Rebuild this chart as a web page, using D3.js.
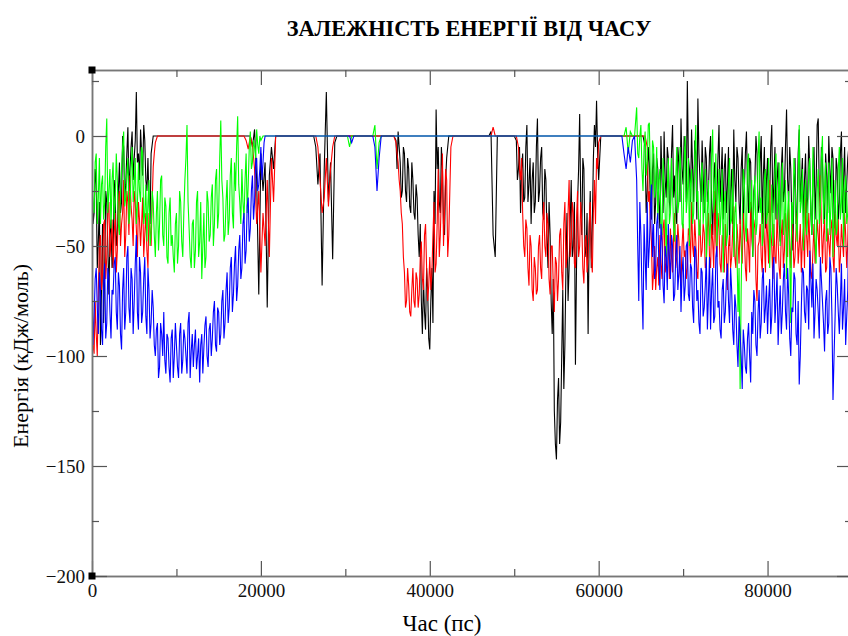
<!DOCTYPE html>
<html>
<head>
<meta charset="utf-8">
<script src="https://cdn.jsdelivr.net/npm/d3@7"></script>
<style>
  body { margin: 0; background: #fff; }
  svg { display: block; }
  text { font-family: "Liberation Serif", "DejaVu Serif", serif; }
</style>
</head>
<body>
<div id="chart"></div>
<script>
// часові кроки в пс, нуль поза відрізками (комплекс не утворено)
// *M масиви - проміжні значення, на пів кроку пізніше
const STEP = 250;
const xMajor = [0, 20000, 40000, 60000, 80000];
const xMinor = [10000, 30000, 50000, 70000, 90000];
const yMajor = [0, -50, -100, -150, -200];
const yMinor = [25, -25, -75, -125, -175];

// чорна серія
const blackStarts = [0, 19000, 26500, 36000, 47250, 50250, 65500];
const blackA = [-18, -35, -22, -48, -95, -40, -62, -30, -72, -38, -55, -28, -45, -12, -30, -5, -22, 4, -15, 2, -10, 20, -8, 3, -18, -2, -25, -30, -8];
const blackAM = [-40, -15, -60, -30, -70, -85, -25, -50, -45, -60, -20, -50, -25, -35, 0, -28, -8, -25, -5, -20, -2, -12, -20, -8, 5, -20, -10, -40];
const blackB = [-5, 3, -20, -72, -8, -25, -12, -78, -18, -5, -15];
const blackC = [-5, -22, -8, -68, -15, 20, -30, -12, -56, -3];
const blackD = [-2, 2, -12, -25, -8, -30, -15, -35, -20, -38, -28, -55, -75, -65, -88, -70, -97, -60, -25, 12, -5, -35, -15, -45, -10, 0];
const blackDM = [-15, -5, -28, -5, -25, -10, -32, -12, -35, -22, -45, -40, -90, -80, -60, -92, -75, -85, -40, -15, -30, -5, -40, -20, -5];
const blackE = [2, -45, -55, 0];
const blackF = [-2, -15, -35, -8, -28, 5, -22, -40, -12, -30, 8, -25, -5, -38, -20, -60, -45, -90, -125, -147,
  -110, -130, -70, -95, -35, -60, -20, -50, -104, -30, 10, -45, -15, -55, -90, -25, -40, 5, 16, -20];
const blackFM = [-20, -5, -15, -30, -5, -30, -10, -20, -35, -5, -30, -10, -35, -15, -45, -30, -75, -65, -140, -120,
  -140, -100, -115, -60, -75, -40, -55, -30, -60, -15, -30, -10, -50, -35, -45, -60, -10, -5, -8];
const blackG = [-5, -25, -12, -38, -8, -30, -15, -42, -20, 2, -28, -10, -35, 5, -18, -40, -12, 8, -22, -5,
  25, -15, 3, -30, -8, 17, -20, -2, -35, -10, -25, 0, -45, -12, -28, 5, -18, -38, -8, -22,
  -50, -15, 3, -30, -10, -40, -5, -25, 2, -35, -12, -55, -20, -8, -32, 0, -18, -42, -10, -28,
  5, -22, -38, -12, -48, -5, -25, 12, -30, -15, -52, -10, -35, 3, -20, -40, -8, -28, -15, -45,
  -5, -22, 8, -32, -12, -38, -18, 0, -26, -10, -42, -15, -30, 2, -20, -35, -10];
const blackGM = [-35, -5, -30, -15, -40, -10, -30, 0, -35, -20, -5, -30, -8, -28, -35, -5, -30, -15, 0, -30,
  -10, -30, -15, -2, -38, -8, -30, -18, -5, -30, -8, -32, -20, -40, -10, -30, -5, -15, -35, -5,
  -25, -40, -20, -5, -30, -15, -38, -8, -22, -10, -40, -25, 0, -35, -12, -40, -5, -20, -35, -5,
  -35, -5, -20, -40, -15, -30, -5, -20, -5, -38, -25, -40, -8, -30, -10, -20, -35, 0, -35, -15,
  -38, 5, -25, -5, -30, -8, -35, -15, -5, -35, -10, -38, -8, -35, -5, -22];

// червона серія
const redStarts = [0, 18250, 26750, 36000, 47500, 50500, 65750];
const redA = [-85, -99, -90, -70, -45, -62, -38, -55, -30, -48, -60, -35, -52, -25, -40, -20, -45, -30, -18, -38,
  -25, -42, -30, -50, -28, -45, -52, -35, -50, -14, -3];
const redAM = [-95, -75, -100, -50, -70, -40, -65, -35, -55, -38, -45, -62, -30, -50, -35, -55, -25, -45, -32, -50,
  -30, -55, -38, -40, -55, -35, -60, -42, -30, -8];
const redB = [-2, -6, 0, -4, -15, -40, -25, -62, -35, -50, -20, -55, -10, -30];
const redC = [-5, -20, -35, -28, -10, -32, -15, -5];
const redD = [-3, -12, -25, -40, -62, -75, -68, -82, -60, -78, -65, -72, -48, -70, -40, -75, -55, -62, -30, -58,
  -15, -45, -8, -35, -20, -45, -5];
const redDM = [-8, -20, -35, -55, -78, -60, -80, -70, -75, -62, -78, -55, -65, -45, -60, -68, -70, -45, -62, -40,
  -55, -25, -50, -15, -55, -25];
const redE = [4];
const redF = [-5, -20, -35, -55, -42, -68, -50, -75, -60, -70, -45, -65, -30, -55, -40, -72, -50, -80, -58, -65,
  -42, -70, -30, -55, -20, -48, -35, -60, -25, -50, -40, -67, -45, -55, -30, -62, -20, -10, -3];
const redFM = [-15, -10, -50, -38, -60, -45, -70, -55, -72, -50, -60, -40, -50, -35, -65, -50, -68, -55, -75, -45,
  -62, -40, -60, -35, -55, -30, -58, -38, -55, -30, -60, -48, -62, -40, -55, -35, -40, -15];
const redG = [-5, -25, -48, -62, -70, -55, -45, -65, -38, -58, -50, -42, -62, -35, -55, -48, -68, -40, -52, -60,
  -45, -30, -55, -48, -65, -38, -52, -44, -58, -35, -60, -48, -25, -55, -42, -62, -50, -40, -70, -45,
  -55, -32, -60, -48, -38, -58, -45, -66, -50, -30, -52, -42, -75, -48, -55, -35, -62, -45, -20, -50,
  -40, -58, -48, -65, -38, -52, -44, -30, -60, -46, -55, -35, -50, -62, -42, -28, -55, -48, -65, -40,
  -52, -45, -18, -58, -38, -60, -48, -42, -55, -35, -50, -62, -40, -55, -45, -48];
const redGM = [-30, -40, -70, -50, -60, -68, -58, -42, -62, -45, -65, -55, -45, -60, -40, -62, -50, -55, -65, -42,
  -58, -50, -38, -62, -45, -55, -40, -60, -42, -55, -40, -60, -48, -35, -58, -45, -62, -55, -50, -60,
  -42, -55, -40, -58, -50, -35, -60, -42, -62, -45, -38, -65, -50, -40, -62, -48, -35, -58, -42, -65,
  -55, -35, -60, -45, -60, -35, -55, -50, -38, -60, -42, -58, -40, -48, -60, -45, -35, -62, -52, -58,
  -38, -55, -40, -45, -62, -42, -55, -38, -62, -45, -38, -55, -48, -35, -60];

// зелена серія
const greenStarts = [0, 30500, 33500, 63250, 64500];
const greenA = [-15, -35, -8, -28, -40, -18, -30, 8, -25, -42, -12, -30, -20, -45, -15, 2, -28, -10, -35, -5,
  -22, -40, -12, -30, -8, -35, -48, -20, -45, -30, -55, -25, -40, -18, -50, -32, -58, -28, -45, -62,
  -35, -50, -30, -55, -20, 5, -42, -60, -38, -52, -25, -48, -65, -35, -55, -30, -45, -22, -40, -15,
  -35, 7, -28, -45, -20, -38, -10, -42, -25, 9, -30, -15, -38, -8, -22, 2, -12, -5, 3, -8, -2];
const greenAM = [-30, -12, -40, -10, -22, -38, -5, -35, -15, -20, -38, -8, -40, -25, -5, -32, -18, -40, -15, -30,
  -10, -32, -25, -5, -40, -22, -30, -50, -25, -45, -35, -52, -20, -45, -28, -55, -35, -50, -55, -40,
  -58, -25, -48, -35, -10, -30, -55, -40, -60, -30, -55, -30, -50, -60, -25, -48, -28, -50, -20, -42,
  -10, -20, -48, -30, -45, -18, -35, -12, -5, -22, -40, -30, -20, -35, -5, -15, -2, -10, -4, 0];
const greenB = [-5];
const greenC = [5, -15, -3];
const greenD = [4, -8, 2];
const greenE = [13, -10, 5, -25, 2, -12, 6, -30, -5, -20, -38, -15, -45, -22, -55, -10, -35, -25, -48, -5,
  -30, -18, -42, 0, -28, -50, -15, -35, 5, -25, -45, -12, -32, -58, -20, -40, 3, -28, -50, -15,
  -35, -62, -25, -45, -10, -38, -55, -30, -80, -115, -40, -20, -48, -8, -32, -55, -18, -40, 2, -28,
  -45, -15, -35, -60, -22, -42, -8, -30, -50, -12, -38, -65, -25, -85, -40, -18, -48, 5, -30, -52,
  -20, -38, -10, -45, -28, -58, -15, -35, 0, -25, -48, -12, -32, -55, -20, -42, -5, -30, -50, -18, -35];
const greenEM = [-8, 0, -15, -5, -18, 5, -20, -2, -28, -5, -20, -40, -10, -35, -25, -40, -10, -42, -20, -35,
  -5, -40, -12, -35, -10, -22, -40, -8, -30, -45, -20, -40, -15, -35, -50, -10, -35, -8, -30, -45,
  -15, -30, -50, -20, -40, -15, -35, -50, -60, -70, -15, -42, -12, -35, -20, -30, -45, -10, -35, -50,
  -20, -40, -10, -40, -50, -15, -38, -12, -25, -45, -20, -35, -55, -30, -10, -40, -20, -35, -15, -30,
  -45, -15, -35, -5, -48, -25, -40, -10, -40, -12, -30, -45, -10, -35, -45, -15, -38, -10, -25, -40];

// синя серія
const blueStarts = [0, 30750, 33500, 63000, 64500];
const blueA = [-55, -82, -60, -90, -70, -95, -58, -85, -65, -92, -72, -55, -88, -68, -97, -60, -80, -50, -85, -65,
  -75, -45, -88, -62, -80, -55, -90, -70, -85, -78, -100, -85, -105, -90, -80, -108, -92, -112, -88, -100,
  -95, -110, -85, -102, -92, -108, -80, -98, -105, -88, -100, -112, -90, -96, -82, -105, -85, -92, -75, -98,
  -80, -90, -70, -85, -62, -78, -55, -72, -50, -68, -45, -60, -35, -52, -28, -42, -18, -30, -10, -22,
  -5, -12, 0];
const blueAM = [-95, -65, -78, -62, -88, -68, -92, -60, -80, -70, -58, -80, -62, -90, -70, -88, -55, -78, -60, -90,
  -58, -80, -55, -85, -65, -82, -60, -92, -70, -95, -88, -110, -85, -100, -102, -90, -105, -92, -110, -85,
  -105, -90, -108, -88, -100, -85, -110, -90, -95, -106, -92, -95, -108, -86, -100, -88, -100, -80, -95, -78,
  -95, -75, -92, -70, -85, -60, -80, -58, -75, -52, -65, -40, -58, -32, -48, -25, -38, -12, -25, -15,
  -20, -3];
const blueB = [-3];
const blueC = [-5, -25, -10];
const blueD = [-8, -15, -5, -12, -2];
const blueE = [-20, -75, -45, -88, -55, -30, -50, -22, -40, -60, -35, -70, -48, -76, -55, -40, -65, -50, -72, -45,
  -62, -80, -55, -68, -48, -75, -60, -85, -52, -70, -90, -62, -78, -55, -72, -88, -60, -82, -50, -75,
  -92, -65, -80, -58, -85, -70, -95, -78, -105, -90, -115, -95, -108, -85, -112, -90, -75, -100, -70, -85,
  -60, -78, -90, -65, -82, -55, -75, -95, -68, -80, -58, -88, -72, -100, -80, -65, -95, -113, -78, -62,
  -85, -70, -52, -78, -92, -65, -80, -55, -75, -98, -70, -85, -60, -120, -82, -68, -90, -58, -78, -95, -70];
const blueEM = [-50, -30, -70, -40, -70, -60, -35, -55, -65, -40, -58, -40, -68, -50, -70, -55, -45, -75, -55, -70,
  -50, -62, -75, -50, -72, -58, -78, -50, -75, -85, -60, -82, -68, -88, -55, -70, -85, -55, -78, -88,
  -70, -85, -65, -75, -60, -88, -72, -95, -82, -100, -88, -105, -92, -100, -80, -70, -95, -80, -92, -65,
  -85, -68, -75, -90, -60, -85, -62, -80, -90, -65, -80, -60, -92, -78, -62, -90, -75, -100, -60, -80,
  -68, -88, -65, -58, -80, -70, -92, -65, -85, -75, -90, -55, -82, -100, -60, -80, -75, -88, -65, -82];

const series = [
  { color: "#000000", starts: blackStarts,
    segs: [blackA, blackB, blackC, blackD, blackE, blackF, blackG],
    mids: [blackAM, null, null, blackDM, null, blackFM, blackGM] },
  { color: "#ff0000", starts: redStarts,
    segs: [redA, redB, redC, redD, redE, redF, redG],
    mids: [redAM, null, null, redDM, null, redFM, redGM] },
  { color: "#00ff00", starts: greenStarts,
    segs: [greenA, greenB, greenC, greenD, greenE],
    mids: [greenAM, null, null, null, greenEM] },
  { color: "#0000ff", starts: blueStarts,
    segs: [blueA, blueB, blueC, blueD, blueE],
    mids: [blueAM, null, null, null, blueEM] }
];

const W = 848, H = 636;
const margin = { left: 92, top: 70 };
const pw = 760, ph = 506;
const T_END = 90000;

const x = d3.scaleLinear().domain([0, 90000]).range([0, pw]);
const y = d3.scaleLinear().domain([-200, 30]).range([ph, 0]);

// точки серії: нуль між відрізками, значення на відрізках
function buildPoints(s) {
  const pts = [];
  let lastT = -Infinity;
  s.segs.forEach((vals, k) => {
    const t0 = s.starts[k];
    const mid = s.mids[k];
    if (k === 0 && t0 > 0) { pts.push([0, 0]); lastT = 0; }
    if (t0 - STEP > lastT) pts.push([t0 - STEP, 0]);
    vals.forEach((v, i) => {
      pts.push([t0 + i * STEP, v]);
      if (mid && i < mid.length) pts.push([t0 + i * STEP + STEP / 2, mid[i]]);
    });
    lastT = t0 + (vals.length - 1) * STEP;
    if (lastT + STEP < T_END) { pts.push([lastT + STEP, 0]); lastT += STEP; }
  });
  if (lastT < T_END) pts.push([T_END, 0]);
  return pts;
}

const svg = d3.select("#chart").append("svg")
  .attr("width", W).attr("height", H);

svg.append("defs").append("clipPath").attr("id", "clip")
  .append("rect").attr("width", pw).attr("height", ph);

const g = svg.append("g").attr("transform", `translate(${margin.left},${margin.top})`);

const line = d3.line().x(d => x(d[0])).y(d => y(d[1]));

const plot = g.append("g").attr("clip-path", "url(#clip)");
series.forEach(s => {
  plot.append("path")
    .datum(buildPoints(s))
    .attr("fill", "none")
    .attr("stroke", s.color)
    .attr("stroke-width", 1.1)
    .attr("d", line);
});

// осі
function styleAxis(sel) {
  sel.selectAll(".domain").attr("stroke", "#777").attr("stroke-width", 1.5);
  sel.selectAll(".tick line").attr("stroke", "#555").attr("stroke-width", 1.2);
  sel.selectAll(".tick text").attr("fill", "#111").style("font-size", "19px")
    .style("font-family", "'Liberation Serif', serif");
}

g.append("g").attr("transform", `translate(0,${ph})`)
  .call(d3.axisBottom(x).tickValues(xMajor).tickSize(-15).tickSizeOuter(0).tickPadding(8).tickFormat(d3.format("d")))
  .call(styleAxis);
g.append("g").attr("transform", `translate(0,${ph})`)
  .call(d3.axisBottom(x).tickValues(xMinor).tickSize(-7).tickSizeOuter(0).tickFormat(""))
  .call(styleAxis);

g.append("g")
  .call(d3.axisTop(x).tickValues(xMajor).tickSize(-15).tickSizeOuter(0).tickFormat(""))
  .call(styleAxis);
g.append("g")
  .call(d3.axisTop(x).tickValues(xMinor).tickSize(-7).tickSizeOuter(0).tickFormat(""))
  .call(styleAxis);

g.append("g")
  .call(d3.axisLeft(y).tickValues(yMajor).tickSize(-15).tickSizeOuter(0).tickPadding(7).tickFormat(d3.format("d")))
  .call(styleAxis);
g.append("g")
  .call(d3.axisLeft(y).tickValues(yMinor).tickSize(-7).tickSizeOuter(0).tickFormat(""))
  .call(styleAxis);

g.append("g").attr("transform", `translate(${pw},0)`)
  .call(d3.axisRight(y).tickValues(yMajor).tickSize(-15).tickSizeOuter(0).tickFormat(""))
  .call(styleAxis);
g.append("g").attr("transform", `translate(${pw},0)`)
  .call(d3.axisRight(y).tickValues(yMinor).tickSize(-7).tickSizeOuter(0).tickFormat(""))
  .call(styleAxis);

// кутові маркери
[[0, y(30)], [0, y(-200)]].forEach(p => {
  g.append("rect")
    .attr("x", x(p[0]) - 3.5).attr("y", p[1] - 3.5)
    .attr("width", 7).attr("height", 7)
    .attr("fill", "#000");
});

// підписи
svg.append("text")
  .attr("x", 469).attr("y", 36)
  .attr("text-anchor", "middle")
  .style("font-size", "22.3px").style("font-weight", "bold")
  .text("ЗАЛЕЖНІСТЬ ЕНЕРГІЇ ВІД ЧАСУ");

svg.append("text")
  .attr("x", 442).attr("y", 631)
  .attr("text-anchor", "middle")
  .style("font-size", "23px")
  .text("Час (пс)");

svg.append("text")
  .attr("transform", "translate(28,356) rotate(-90)")
  .attr("text-anchor", "middle")
  .style("font-size", "22px")
  .text("Енергія (кДж/моль)");
</script>
</body>
</html>
